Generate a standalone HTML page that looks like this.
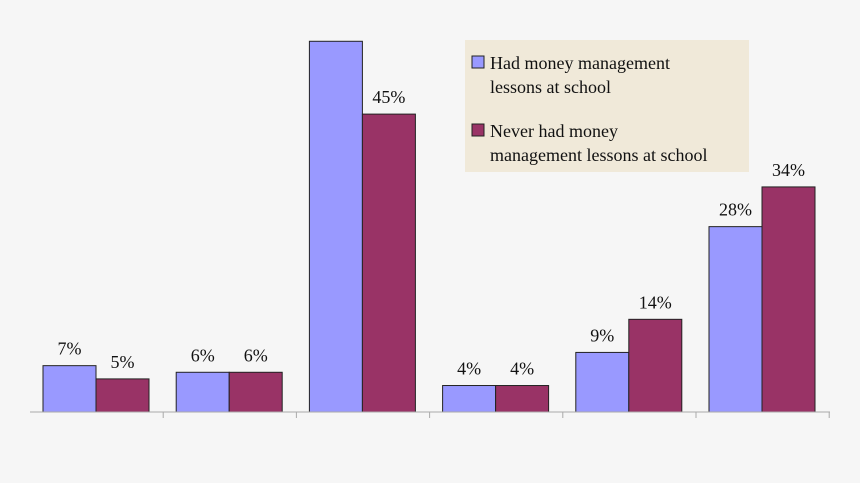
<!DOCTYPE html>
<html><head><meta charset="utf-8"><style>
body{margin:0;background:#f6f6f6}
svg{display:block;font-family:"Liberation Serif",serif}
</style></head><body>
<svg id="c" width="860" height="483">
<rect width="860" height="483" fill="#f6f6f6"/>
<g id="bars"></g>
<line x1="30" y1="412" x2="830" y2="412" stroke="#aaa" stroke-width="1"/>
<g id="ticks"></g>
<g>
<rect x="465" y="40" width="284" height="132" fill="#f0e9d9"/>
<g>
<rect x="472" y="56" width="12" height="12" fill="#9999ff" stroke="#222" stroke-width="1"/>
<text x="490" y="69" font-size="18" fill="#111">Had money management</text>
<text x="490" y="93" font-size="18" fill="#111">lessons at school</text>
</g>
<g>
<rect x="472" y="124" width="12" height="12" fill="#993366" stroke="#222" stroke-width="1"/>
<text x="490" y="137" font-size="18" fill="#111">Never had money</text>
<text x="490" y="161" font-size="18" fill="#111">management lessons at school</text>
</g>
</g>
</svg>
<script>
const categories = ["g1","g2","g3","g4","g5","g6"];
const hadValues = [7, 6, 56, 4, 9, 28];
const neverValues = [5, 6, 45, 4, 14, 34];
const valueLabelsHad = ["7%","6%","56%","4%","9%","28%"];
const valueLabelsNever = ["5%","6%","45%","4%","14%","34%"];

const NS = "http://www.w3.org/2000/svg";
const x0 = 30, groupW = 133.2, baseY = 412, pxPer = 6.62, barW = 53;
const xScale = i => x0 + i * groupW;
const yScale = v => baseY - v * pxPer;
const barsG = document.getElementById('bars');
const ticksG = document.getElementById('ticks');

function mk(tag, attrs){const e=document.createElementNS(NS,tag);for(const k in attrs)e.setAttribute(k,attrs[k]);return e;}

categories.forEach((c,i)=>{
  const gx = xScale(i);
  const series = [[hadValues[i],"#9999ff",valueLabelsHad[i],"had"],[neverValues[i],"#993366",valueLabelsNever[i],"never"]];
  series.forEach((s,j)=>{
    const bx = gx + 13 + j*barW;
    const y = yScale(s[0]);
    const r = mk('rect',{x:bx,y:y,width:barW,height:baseY-y,fill:s[1],stroke:"#222","stroke-width":1});
    
    
    barsG.appendChild(r);
    if (y - 10 > 45) {
      const t = mk('text',{x:bx+barW/2,y:y-11,"text-anchor":"middle","font-size":18,fill:"#111"});
      t.textContent = s[2];
      
      
      barsG.appendChild(t);
    }
  });
  const tx = xScale(i+1);
  const tk = mk('line',{x1:tx,y1:412,x2:tx,y2:418,stroke:"#aaa","stroke-width":1});
  
  
  ticksG.appendChild(tk);
});
</script>
</body></html>
